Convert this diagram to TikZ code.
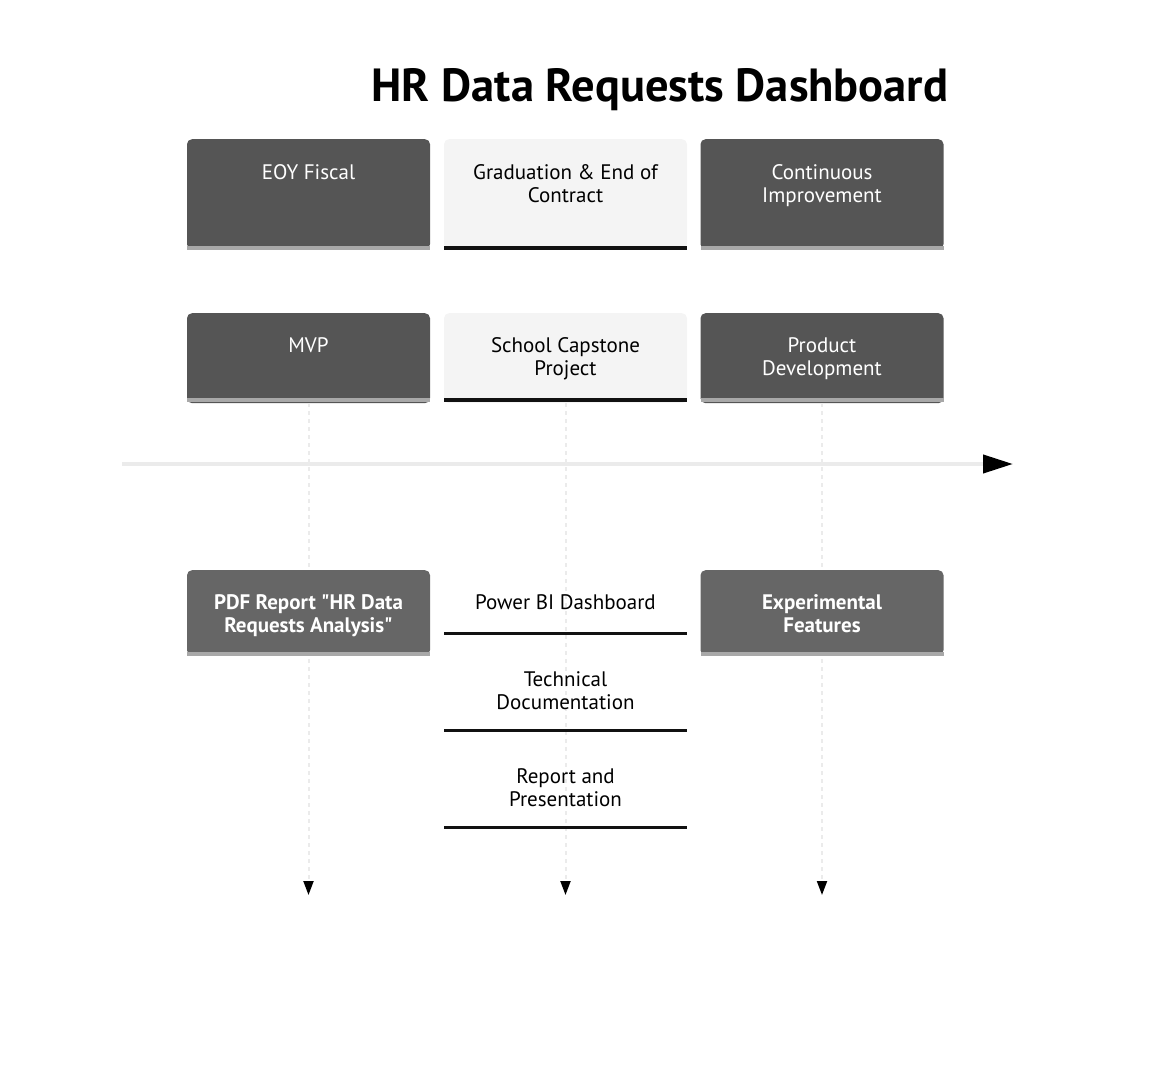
\documentclass[tikz,border=0pt]{standalone}
\usepackage{fontspec}
\setmainfont{PT Sans}[Ligatures=TeXOff]
\usetikzlibrary{arrows.meta}
\definecolor{darkfill}{HTML}{555555}
\definecolor{midfill}{HTML}{666666}
\definecolor{lightfill}{HTML}{F4F4F4}
\definecolor{greyedge}{HTML}{A8A8A8}
\definecolor{blackedge}{HTML}{111111}
\definecolor{guide}{HTML}{EBEBEB}
\begin{document}
\begin{tikzpicture}[x=1pt,y=-1pt,
  boxbase/.style={rounded corners=5pt, inner sep=0pt, minimum width=243pt, anchor=north, draw=none},
  darkbox/.style={boxbase, fill=darkfill},
  midbox/.style={boxbase, fill=midfill},
  lightbox/.style={boxbase, fill=lightfill},
  edgebar/.style={inner sep=0pt, minimum width=243pt, minimum height=4pt, anchor=north},
  greybar/.style={edgebar, fill=greyedge},
  blackbar/.style={edgebar, fill=blackedge},
  wtxt/.style={text=white, align=center, font=\fontsize{21}{23}\selectfont, anchor=north, inner sep=0pt},
  wbtxt/.style={text=white, align=center, font=\fontsize{21}{23}\selectfont\bfseries, anchor=north, inner sep=0pt},
  ktxt/.style={text=black, align=center, font=\fontsize{21}{23}\selectfont, anchor=north, inner sep=0pt},
  guideline/.style={draw=guide, line width=2pt, dash pattern=on 4pt off 4pt, -{Triangle[width=10pt,length=14pt,color=black]}},
]
\useasboundingbox (0,0) rectangle (1173,1075);
% title
\node[font=\fontsize{46.5}{52}\selectfont\bfseries, anchor=base] (title) at (660,102) {HR Data Requests Dashboard};

% coordinates for guides
\coordinate (e1) at (308.5,895);
\coordinate (e2) at (565.5,895);
\coordinate (e3) at (822,895);
\coordinate (tl0) at (122,464);
\coordinate (tl1) at (1013,464);

% row 2 boxes (needed for guides)
\node[darkbox, minimum height=90pt] (mvp) at (308.5,313) {};
\node[lightbox, minimum height=90pt] (cap) at (565.5,313) {};
\node[darkbox, minimum height=90pt] (prod) at (822,313) {};

% guides
\draw[guideline] (mvp.south) -- (e1);
\draw[guideline] (cap.south) -- (e2);
\draw[guideline] (prod.south) -- (e3);
% timeline
\draw[draw=guide, line width=4pt, -{Triangle[width=18pt,length=30pt,color=black]}] (tl0) -- (tl1);

% row 1
\node[darkbox, minimum height=110pt] (eoy) at (308.5,139) {};
\node[lightbox, minimum height=110pt] (grad) at (565.5,139) {};
\node[darkbox, minimum height=110pt] (cont) at (822,139) {};
\node[greybar] (eoyb) at (308.5,246) {};
\node[blackbar] (gradb) at (565.5,246) {};
\node[greybar] (contb) at (822,246) {};
\node[wtxt] (eoyt) at (308.5,164) {EOY Fiscal};
\node[ktxt] (gradt) at (565.5,164) {Graduation \& End of\\Contract};
\node[wtxt] (contt) at (822,164) {Continuous\\Improvement};

% row 2 bars and text
\node[greybar] (mvpb) at (308.5,398) {};
\node[blackbar] (capb) at (565.5,398) {};
\node[greybar] (prodb) at (822,398) {};
\node[wtxt] (mvpt) at (308.5,337) {MVP};
\node[ktxt] (capt) at (565.5,337) {School Capstone\\Project};
\node[wtxt] (prodt) at (822,337) {Product\\Development};

% row 3
\node[midbox, minimum height=85pt] (pdf) at (308.5,570) {};
\node[midbox, minimum height=85pt] (exp) at (822,570) {};
\node[greybar] (pdfb) at (308.5,652) {};
\node[greybar] (expb) at (822,652) {};
\node[wbtxt] (pdft) at (308.5,594) {PDF Report "HR Data\\Requests Analysis"};
\node[wbtxt] (expt) at (822,594) {Experimental\\Features};

\node[blackbar, minimum height=3.5pt] (pbib) at (565.5,631.5) {};
\node[blackbar, minimum height=3.5pt] (techb) at (565.5,728.5) {};
\node[blackbar, minimum height=3.5pt] (repb) at (565.5,825.5) {};
\node[ktxt] (pbit) at (565.5,594) {Power BI Dashboard};
\node[ktxt] (techt) at (565.5,671) {Technical\\Documentation};
\node[ktxt] (rept) at (565.5,768) {Report and\\Presentation};
\end{tikzpicture}
\end{document}
